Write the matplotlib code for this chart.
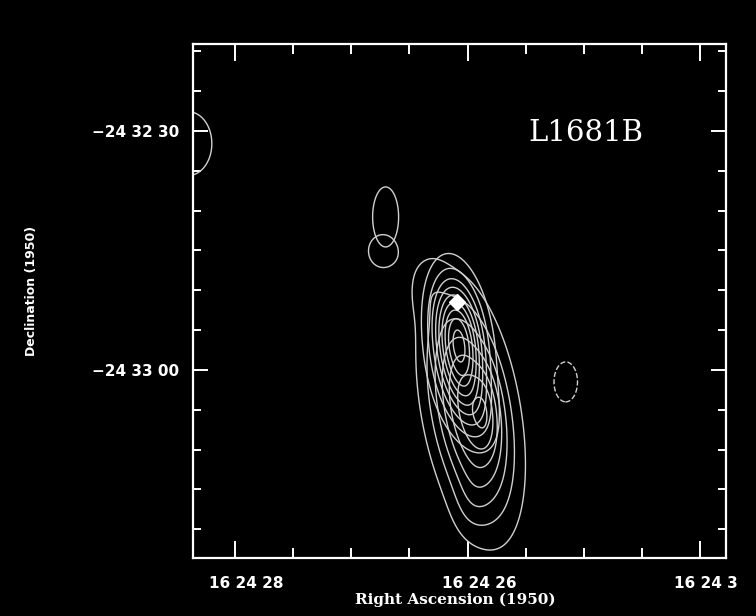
import numpy as np
import matplotlib
matplotlib.use("Agg")
import matplotlib.pyplot as plt
from matplotlib.ticker import MultipleLocator, FixedLocator, FixedFormatter
import matplotlib.transforms as mtransforms

# ---- axis ranges and ticks (RA seconds past 16h24m, Dec arcsec offset from -24 33 00)
ra_limits = [28.36, 23.78]
dec_limits = [-23.6, 40.9]
ra_major = [28, 26, 24]
ra_major_labels = ["16 24 28", "16 24 26", "16 24 3"]
dec_major = [30, 0]
dec_major_labels = ["\u221224 32 30", "\u221224 33 00"]

# ---- emission components, map A (compact line)
A_ra = [26.077, 26.00, 28.40, 26.705, 25.157]
A_dec = [3.8, -4.0, 28.4, 19.2, -1.5]
A_sig_u = [2.1, 2.2, 2.5, 1.38, 1.25]
A_sig_v = [5.2, 4.5, 3.4, 3.2, 2.13]
A_angle = [8, 20, 0, 0, 0]
A_amp = [0.9, 0.25, 0.2, 0.2, -0.2]
A_levels = [-0.1, 0.1, 0.2, 0.3, 0.4, 0.5, 0.6, 0.7, 0.8, 0.9]

# ---- emission components, map B (extended line)
B_ra = [25.974, 25.830, 26.361, 26.731, 25.98]
B_dec = [-5.0, -5.0, 10.7, 14.93, -17.0]
B_sig_u = [3.2, 1.1, 1.8, 1.57, 1.6]
B_sig_v = [9.1, 3.6, 3.0, 1.8, 3.0]
B_angle = [10, 5, 0, 0, 0]
B_amp = [1.0, 0.22, 0.12, 0.28, 0.08]
B_levels = [0.15, 0.3, 0.45, 0.6, 0.75, 0.9, 1.05]

# ---- position marker
star_ra = [26.095]
star_dec = [8.5]

RA_TO_ARCSEC = 14.59


def field(RA, DEC, ras, decs, sus, svs, angs, amps):
    Z = np.zeros_like(RA)
    for r0, d0, su, sv, an, amp in zip(ras, decs, sus, svs, angs, amps):
        u = -(RA - r0) * RA_TO_ARCSEC
        v = DEC - d0
        a = np.deg2rad(an)
        up = u * np.cos(a) + v * np.sin(a)
        vp = -u * np.sin(a) + v * np.cos(a)
        Z += amp * np.exp(-0.5 * ((up / su) ** 2 + (vp / sv) ** 2))
    return Z


ra_grid = np.linspace(29.0, 23.5, 500)
dec_grid = np.linspace(-26, 44, 500)
RA, DEC = np.meshgrid(ra_grid, dec_grid)
ZA = field(RA, DEC, A_ra, A_dec, A_sig_u, A_sig_v, A_angle, A_amp)
ZB = field(RA, DEC, B_ra, B_dec, B_sig_u, B_sig_v, B_angle, B_amp)

fig = plt.figure(figsize=(7.56, 6.16), dpi=100, facecolor="black")
ax = fig.add_axes([193 / 756, 1 - 558 / 616, 533 / 756, 514 / 616])
ax.set_facecolor("black")

line_col = "#d0d0d0"
ax.contour(RA, DEC, ZA, levels=A_levels, colors=line_col, linewidths=1.0)
ax.contour(RA, DEC, ZB, levels=B_levels, colors=line_col, linewidths=1.0)
ax.plot(star_ra, star_dec, marker="D", color="white", ms=8, ls="none")

ax.set_xlim(ra_limits)
ax.set_ylim(dec_limits)

for s in ax.spines.values():
    s.set_color("white")
    s.set_linewidth(1.6)

ax.xaxis.set_major_locator(FixedLocator(ra_major))
ax.xaxis.set_major_formatter(FixedFormatter(ra_major_labels))
ax.xaxis.set_minor_locator(MultipleLocator(0.5))
ax.yaxis.set_major_locator(FixedLocator(dec_major))
ax.yaxis.set_major_formatter(FixedFormatter(dec_major_labels))
ax.yaxis.set_minor_locator(MultipleLocator(5))

ax.tick_params(axis="x", which="major", direction="in", length=12, width=1.4,
               color="white", top=True, bottom=True, pad=13)
ax.tick_params(axis="x", which="minor", direction="in", length=7, width=1.4,
               color="white", top=True, bottom=True)
ax.tick_params(axis="y", which="major", direction="in", length=11, width=1.4,
               color="white", left=True, right=True, pad=10)
ax.tick_params(axis="y", which="minor", direction="in", length=6, width=1.4,
               color="white", left=True, right=True)

offset = mtransforms.ScaledTranslation(-0.26, 0, fig.dpi_scale_trans)
for lab in ax.get_xticklabels():
    lab.set_color("white")
    lab.set_fontsize(11)
    lab.set_fontweight("bold")
    lab.set_horizontalalignment("left")
    lab.set_transform(lab.get_transform() + offset)
for lab in ax.get_yticklabels():
    lab.set_color("white")
    lab.set_fontsize(11)
    lab.set_fontweight("bold")

ax.text(0.737, 0.826, "L1681B", transform=ax.transAxes, color="white",
        fontsize=21, family="DejaVu Serif", ha="center", va="center")

fig.text(455 / 756, 1 - 600 / 616, "Right Ascension (1950)", color="white",
         fontsize=11, fontweight="bold", family="DejaVu Serif",
         ha="center", va="center")
fig.text(32 / 756, 1 - 291 / 616, "Declination (1950)", color="white",
         fontsize=9, fontweight="bold", rotation=90, ha="center", va="center")

fig.savefig("out.png", dpi=100, facecolor="black")
